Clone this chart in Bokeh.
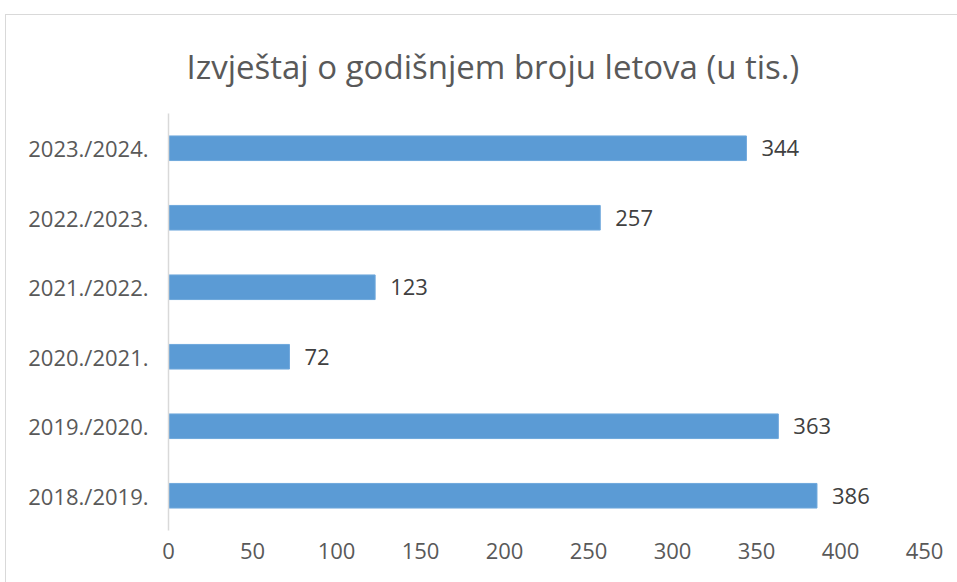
from bokeh.plotting import figure
from bokeh.models import ColumnDataSource, FactorRange, Range1d, LabelSet, FixedTicker
from bokeh.core.properties import value
from bokeh.embed import file_html
from bokeh.resources import INLINE

title_text = "Izvještaj o godišnjem broju letova (u tis.)"
seasons = ["2018./2019.", "2019./2020.", "2020./2021.", "2021./2022.", "2022./2023.", "2023./2024."]
flights = [386, 363, 72, 123, 257, 344]
x_ticks = [0, 50, 100, 150, 200, 250, 300, 350, 400, 450]

src = ColumnDataSource(dict(season=seasons, flights=flights, label=[str(v) for v in flights]))

FONT = "Open Sans"

p = figure(width=952, height=568, output_backend="svg", toolbar_location=None,
           y_range=FactorRange(*seasons, range_padding=0), x_range=Range1d(0, 450),
           min_border_left=162, min_border_right=34, min_border_top=98, min_border_bottom=53,
           title=title_text)
p.styles = {"border-left": "1px solid #d9d9d9", "border-top": "1px solid #d9d9d9"}
p.margin = (14, 0, 0, 5)

p.title.text_font = FONT
p.title.text_font_size = "33px"
p.title.text_font_style = "normal"
p.title.text_color = "#595959"
p.title.align = "left"
p.title.offset = 18
p.title.standoff = 50

p.hbar(y="season", right="flights", height=0.354, source=src,
       fill_color="#5b9bd5", line_color="#6fa8dc", line_width=1)

labels = LabelSet(x="flights", y="season", text="label", source=src, x_offset=15,
                  text_baseline="middle", text_font=value(FONT), text_font_size="22px",
                  text_color="#404040")
p.add_layout(labels)

p.xgrid.grid_line_color = None
p.ygrid.grid_line_color = None
p.outline_line_color = None

p.xaxis.ticker = FixedTicker(ticks=x_ticks)
p.xaxis.axis_line_color = None
p.xaxis.major_tick_line_color = None
p.xaxis.minor_tick_line_color = None
p.xaxis.major_label_standoff = 6
p.xaxis.major_label_text_font = FONT
p.xaxis.major_label_text_font_size = "22px"
p.xaxis.major_label_text_color = "#595959"

p.yaxis.axis_line_color = "#d9d9d9"
p.yaxis.axis_line_width = 1.5
p.yaxis.major_tick_line_color = None
p.yaxis.minor_tick_line_color = None
p.yaxis.major_label_standoff = 14
p.yaxis.major_label_text_font = FONT
p.yaxis.major_label_text_font_size = "22px"
p.yaxis.major_label_text_color = "#595959"

open("out.html", "w").write(file_html(p, INLINE))
